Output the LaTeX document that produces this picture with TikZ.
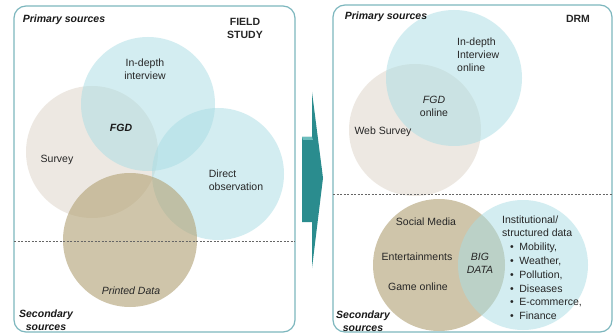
\documentclass[tikz,border=0pt]{standalone}
\usepackage{fontspec}
\setmainfont{Liberation Sans}
\definecolor{cblue}{HTML}{A9DDE4}
\definecolor{cbeige}{HTML}{DCD2C6}
\definecolor{ctan}{HTML}{B3A377}
\definecolor{framec}{HTML}{7DB7BE}
\definecolor{arrowc}{HTML}{2A8C8E}
\definecolor{arrowl}{HTML}{6CBDBD}
\tikzset{
  lbl/.style={font=\fontsize{10.5}{13}\selectfont, inner sep=0pt, text=black!85},
  hdr/.style={font=\fontsize{10.5}{13}\selectfont\bfseries\itshape, inner sep=0pt, text=black!90},
  bluec/.style={circle, fill=cblue, fill opacity=0.5, inner sep=0pt},
  beigec/.style={circle, fill=cbeige, fill opacity=0.5, inner sep=0pt},
  tanc/.style={circle, fill=ctan, fill opacity=0.62, inner sep=0pt},
  panel/.style={draw=framec, line width=1.2pt, rounded corners=12pt},
  divider/.style={draw=black!60, line width=0.7pt, dash pattern=on 2pt off 1.5pt},
}
\begin{document}
\begin{tikzpicture}[x=1pt,y=-1pt]
\useasboundingbox (0,0) rectangle (613,334);
\fill[white] (0,0) rectangle (613,334);
% ---------- left panel circles
\node[beigec, minimum size=132pt] (survey) at (92,152) {};
\node[bluec, minimum size=134pt] (interview) at (148,104) {};
\node[bluec, minimum size=132pt] (direct) at (218,174) {};
\node[tanc, minimum size=134pt] (printed) at (130,240) {};
% ---------- right panel circles
\node[beigec, minimum size=132pt] (websurvey) at (415,130) {};
\node[bluec, minimum size=136pt] (interviewon) at (454,78) {};
\node[tanc, minimum size=132pt] (social) at (439,265) {};
\node[bluec, minimum size=130pt] (instit) at (523,265) {};
% ---------- panels
\draw[panel] (14,6) rectangle (295,332);
\draw[panel] (333,5) rectangle (612,332);
\draw[divider] (14,241) -- (295,241);
\draw[divider] (333,194) -- (612,194);
% ---------- arrow
\fill[arrowc] (302,137) -- (312,137) -- (312,92) -- (323,178) -- (312,268) -- (312,222) -- (302,222) -- cycle;
\fill[arrowl] (302,137) -- (312,137) -- (313,140) -- (303,140) -- cycle;
% ---------- left texts
\node[hdr] (ps1) at (64,20) {Primary sources};
\node[lbl, font=\fontsize{10.5}{13}\selectfont\bfseries, align=center] (field) at (245,28) {FIELD\\STUDY};
\node[lbl, align=center] (t-int) at (145,69) {In-depth\\interview};
\node[hdr] (t-fgd) at (121,128) {FGD};
\node[lbl] (t-sur) at (57,160) {Survey};
\node[lbl, align=left] (t-dir) at (236,180) {Direct\\observation};
\node[lbl, font=\fontsize{10.5}{13}\selectfont\itshape] (t-pri) at (131,291) {Printed Data};
\node[hdr, align=center] (ss1) at (46,320) {Secondary\\sources};
% ---------- right texts
\node[hdr] (ps2) at (386,17) {Primary sources};
\node[lbl, font=\fontsize{10.5}{13}\selectfont\bfseries] (drm) at (578,19) {DRM};
\node[lbl, align=left, anchor=west] (t-into) at (457,55) {In-depth\\Interview\\online};
\node[lbl, align=center] (t-fgdo) at (434,106) {\itshape FGD\\online};
\node[lbl] (t-web) at (383,132) {Web Survey};
\node[lbl] (t-soc) at (426,222) {Social Media};
\node[lbl] (t-ent) at (417,257) {Entertainments};
\node[lbl] (t-game) at (418,287) {Game online};
\node[lbl, align=center, font=\fontsize{10.5}{13}\selectfont\itshape] (t-big) at (480,263) {BIG\\DATA};
\node[lbl, align=left, anchor=west] (t-ins) at (502,226) {Institutional/\\structured data};
\node[lbl, anchor=west] (b1) at (510,248) {\textbullet\hspace{5.5pt}Mobility,};
\node[lbl, anchor=west] (b2) at (510,261.6) {\textbullet\hspace{5.5pt}Weather,};
\node[lbl, anchor=west] (b3) at (510,275.2) {\textbullet\hspace{5.5pt}Pollution,};
\node[lbl, anchor=west] (b4) at (510,288.8) {\textbullet\hspace{5.5pt}Diseases};
\node[lbl, anchor=west] (b5) at (510,302.4) {\textbullet\hspace{5.5pt}E-commerce,};
\node[lbl, anchor=west] (b6) at (510,316) {\textbullet\hspace{5.5pt}Finance};
\node[hdr, align=center] (ss2) at (363,321) {Secondary\\sources};
\end{tikzpicture}
\end{document}
